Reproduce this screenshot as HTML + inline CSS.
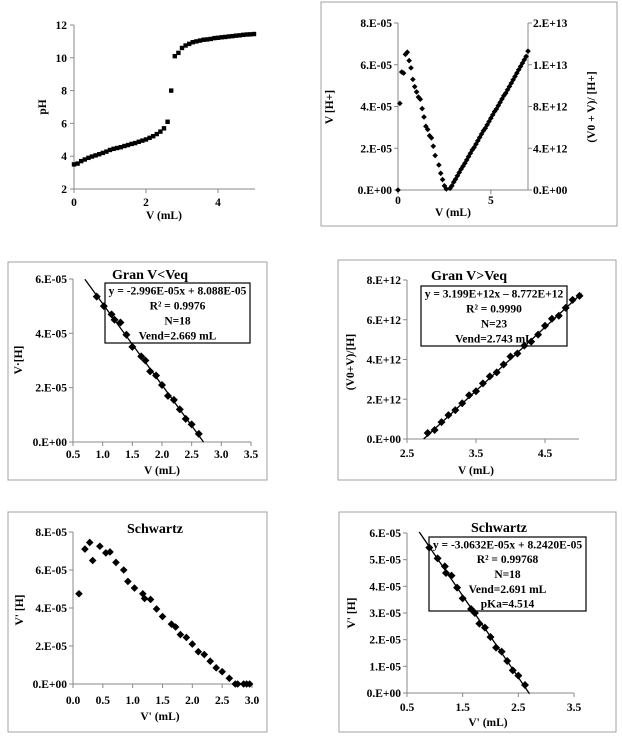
<!DOCTYPE html>
<html><head><meta charset="utf-8"><style>
html,body{margin:0;padding:0;background:#fff;}
svg{display:block;font-family:"Liberation Serif",serif;font-weight:bold;}
</style></head><body>
<svg id="c" width="622" height="744" viewBox="0 0 622 744"></svg>
<script>
// Panel 1: pH titration curve
const phV=[0,0.1,0.2,0.3,0.4,0.5,0.6,0.7,0.8,0.9,1.0,1.1,1.2,1.3,1.4,1.5,1.6,1.7,1.8,1.9,2.0,2.1,2.2,2.3,2.4,2.5,2.6,2.7,2.8,2.9,3.0,3.1,3.2,3.3,3.4,3.5,3.6,3.7,3.8,3.9,4.0,4.1,4.2,4.3,4.4,4.5,4.6,4.7,4.8,4.9,5.0];
const phVals=[3.5,3.55,3.7,3.8,3.9,3.98,4.05,4.12,4.2,4.28,4.38,4.45,4.5,4.55,4.62,4.68,4.75,4.8,4.88,4.95,5.02,5.12,5.22,5.35,5.5,5.7,6.1,8.0,10.1,10.3,10.6,10.75,10.85,10.95,11.0,11.05,11.1,11.12,11.15,11.2,11.22,11.25,11.27,11.3,11.32,11.35,11.37,11.4,11.42,11.43,11.45];
// Panel 2: combined Gran
const g2LeftV=[0,0.1,0.2,0.3,0.4,0.5,0.6,0.7,0.8,0.9,1.0,1.1,1.2,1.3,1.4,1.5,1.6,1.7,1.8,1.9,2.0,2.2,2.3,2.4,2.5,2.6];
const g2LeftY=[0,4.15,5.65,5.6,6.5,6.6,6.2,5.85,5.3,4.95,4.7,4.45,4.35,3.9,3.5,3.05,2.9,2.6,2.5,2.1,1.65,1.2,0.8,0.5,0.2,0.05];
const g2RightV=[2.8,2.9,3.0,3.1,3.2,3.3,3.4,3.5,3.6,3.7,3.8,3.9,4.0,4.1,4.2,4.3,4.4,4.5,4.6,4.7,4.8,4.9,5.0,5.1,5.2,5.3,5.4,5.5,5.6,5.7,5.8,5.9,6.0,6.1,6.2,6.3,6.4,6.5,6.6,6.7,6.8,6.9,7.0];
const g2RightY=[0.16,0.4,0.76,1.04,1.36,1.68,2.0,2.28,2.56,2.88,3.2,3.52,3.84,4.08,4.4,4.72,5.04,5.36,5.68,5.92,6.24,6.56,6.88,7.2,7.52,7.76,8.08,8.4,8.72,9.04,9.28,9.6,9.92,10.24,10.56,10.88,11.2,11.52,11.84,12.16,12.48,12.8,13.3];
// Panel 3: Gran V<Veq (E-05)
const g3V=[0.9,1.02,1.15,1.2,1.3,1.4,1.5,1.65,1.72,1.8,1.9,2.0,2.1,2.2,2.3,2.4,2.5,2.62];
const g3Y=[5.35,5.0,4.7,4.5,4.4,3.95,3.5,3.15,3.0,2.6,2.45,2.1,1.7,1.55,1.2,0.85,0.65,0.3];
const g3Fit=[-2.996,8.088];
// Panel 4: Gran V>Veq (E+12)
const g4V=[2.8,2.9,3.0,3.1,3.2,3.3,3.4,3.5,3.6,3.7,3.8,3.9,4.0,4.1,4.2,4.3,4.4,4.5,4.6,4.7,4.8,4.9,5.0];
const g4Y=[0.3,0.45,0.85,1.2,1.45,1.8,2.2,2.4,2.8,3.15,3.35,3.75,4.15,4.3,4.7,4.9,5.25,5.7,6.05,6.2,6.6,7.0,7.2];
const g4Fit=[3.199,-8.772];
// Panel 5: Schwartz all (E-05)
const s5V=[0.1,0.2,0.28,0.33,0.45,0.55,0.62,0.72,0.85,0.92,1.03,1.17,1.2,1.3,1.4,1.5,1.65,1.72,1.8,1.9,2.0,2.1,2.2,2.3,2.4,2.5,2.62,2.72,2.76,2.86,2.91,2.96];
const s5Y=[4.75,7.1,7.45,6.5,7.25,6.9,6.95,6.4,6.0,5.4,5.05,4.75,4.5,4.45,3.95,3.55,3.15,3.0,2.6,2.45,2.1,1.7,1.55,1.2,0.85,0.65,0.3,0,0,0,0,0];
// Panel 6: Schwartz fit (E-05)
const s6V=[0.9,1.05,1.18,1.2,1.3,1.4,1.5,1.65,1.72,1.8,1.9,2.0,2.1,2.2,2.3,2.4,2.5,2.62];
const s6Y=[5.45,5.05,4.75,4.5,4.4,3.95,3.55,3.15,3.0,2.6,2.45,2.1,1.7,1.55,1.2,0.85,0.65,0.3];
const s6Fit=[-3.0632,8.2420];

const NS="http://www.w3.org/2000/svg";
const svg=document.getElementById('c');
function mk(tag,attrs,parent){const e=document.createElementNS(NS,tag);for(const k in attrs)e.setAttribute(k,attrs[k]);(parent||svg).appendChild(e);return e;}
function txt(s,x,y,size,anchor,parent,rot){const t=mk('text',{x:x,y:y,'font-size':size,'text-anchor':anchor||'middle',fill:'#000'},parent);if(rot)t.setAttribute('transform','rotate(-90 '+x+' '+y+')');t.textContent=s;return t;}
function scale(d0,d1,p0,p1){return v=>p0+(v-d0)/(d1-d0)*(p1-p0);}
function group(name){const g=mk('g',{});return g;}
function frame(g,x0,y0,x1,y1){const r=mk('rect',{x:x0,y:y0,width:x1-x0,height:y1-y0,fill:'none',stroke:'#a0a0a0','stroke-width':1},g);}
function axes(g,xs,ys,xTicks,xLabels,yTicks,yLabels,xLabY,yLabX){
  const xa=mk('line',{x1:xs.range[0],x2:xs.range[1],y1:ys.range[0],y2:ys.range[0],stroke:'#888','stroke-width':1},g);
  
  const ya=mk('line',{x1:xs.range[0],x2:xs.range[0],y1:ys.range[0],y2:ys.range[1],stroke:'#888','stroke-width':1},g);
  
  xTicks.forEach((v,i)=>{const x=xs.f(v);mk('line',{x1:x,x2:x,y1:ys.range[0],y2:ys.range[0]+4,stroke:'#888'},g);
    const t=txt(xLabels[i],x,xLabY,11.5,'middle',g);});
  yTicks.forEach((v,i)=>{const y=ys.f(v);mk('line',{x1:xs.range[0]-4,x2:xs.range[0],y1:y,y2:y,stroke:'#888'},g);
    const t=txt(yLabels[i],yLabX,y+4,11.5,'end',g);});
}
function diamonds(g,X,Y,fx,fy,r,name){X.forEach((v,i)=>{const x=fx(v),y=fy(Y[i]);
  const p=mk('path',{d:`M${x} ${y-r}L${x+r} ${y}L${x} ${y+r}L${x-r} ${y}Z`,fill:'#000'},g);
  });}
function legend(g,x0,y0,x1,y1,lines){const r=mk('rect',{x:x0,y:y0,width:x1-x0,height:y1-y0,fill:'none',stroke:'#000','stroke-width':1.2},g);
  
  const lh=(y1-y0)/lines.length;lines.forEach((s,i)=>{const t=txt(s,(x0+x1)/2,y0+lh*i+lh*0.5+4,11.5,'middle',g);});}
function fitLine(g,fit,fx,fy,xa,xb){const l=mk('line',{x1:fx(xa),y1:fy(fit[0]*xa+fit[1]),x2:fx(xb),y2:fy(fit[0]*xb+fit[1]),stroke:'#000','stroke-width':1.3},g);
  }

// Panel 1
(function(){const g=group('ph-curve-chart');
  const fx=scale(0,5,74,254),fy=scale(2,12,189,25);
  axes(g,{f:fx,range:[74,255]},{f:fy,range:[189,25]},[0,2,4],['0','2','4'],[2,4,6,8,10,12],['2','4','6','8','10','12'],206,67);
  phV.forEach((v,i)=>{const x=fx(v),y=fy(phVals[i]);const r=mk('rect',{x:x-2.2,y:y-2.2,width:4.4,height:4.4,fill:'#000'},g);
    });
  const xt=txt('V (mL)',164,219,11.5,'middle',g);
  const yt=txt('pH',46,107,11.5,'middle',g,true);
})();
// Panel 2
(function(){const g=group('gran-combined-chart');frame(g,321,2,617,226);
  const fx=scale(0,7,398,528),fyL=scale(0,8,190,23),fyR=scale(0,16,190,23);
  axes(g,{f:fx,range:[398,528]},{f:fyL,range:[190,23]},[0,5],['0','5'],[0,2,4,6,8],['0.E+00','2.E-05','4.E-05','6.E-05','8.E-05'],204,392);
  mk('line',{x1:528,x2:528,y1:190,y2:23,stroke:'#888'},g);
  const rl=['0.E+00','4.E+12','8.E+12','1.E+13','2.E+13'];const rv=[0,4,8,12,16];
  rv.forEach((v,i)=>{const y=fyR(v);mk('line',{x1:528,x2:532,y1:y,y2:y,stroke:'#888'},g);const t=txt(rl[i],533,y+4,11.5,'start',g);});
  diamonds(g,g2LeftV,g2LeftY,fx,fyL,2.8,'left-series-point');
  diamonds(g,g2RightV,g2RightY,fx,fyR,2.8,'right-series-point');
  const xt=txt('V (mL)',453,216,11.5,'middle',g);
  const yt=txt('V [H+]',333,107,11.5,'middle',g,true);
  const y2=txt('(V0 + V)/ [H+]',595,107,11.5,'middle',g,true);
})();
// Panel 3
(function(){const g=group('gran-before-eq-chart');frame(g,8,262,267,480);
  const fx=scale(0.5,3.5,73,251),fy=scale(0,6,442,279);
  axes(g,{f:fx,range:[73,251]},{f:fy,range:[442,279]},[0.5,1,1.5,2,2.5,3,3.5],['0.5','1.0','1.5','2.0','2.5','3.0','3.5'],[0,2,4,6],['0.E+00','2.E-05','4.E-05','6.E-05'],458,67);
  legend(g,105,283,250,343,['y = -2.996E-05x + 8.088E-05','R² = 0.9976','N=18','Vend=2.669 mL']);
  diamonds(g,g3V,g3Y,fx,fy,4,'data-point');
  fitLine(g,g3Fit,fx,fy,0.7,2.7);
  const tt=txt('Gran V<Veq',150,279,14,'middle',g);
  const xt=txt('V (mL)',162,474,11.5,'middle',g);
  const yt=txt('V·[H]',22,360,11.5,'middle',g,true);
})();
// Panel 4
(function(){const g=group('gran-after-eq-chart');frame(g,338,260,616,480);
  const fx=scale(2.5,4.5,407,545),fy=scale(0,8,439,280);
  axes(g,{f:fx,range:[407,579]},{f:fy,range:[439,280]},[2.5,3.5,4.5],['2.5','3.5','4.5'],[0,2,4,6,8],['0.E+00','2.E+12','4.E+12','6.E+12','8.E+12'],457,401);
  legend(g,421,286,567,346,['y = 3.199E+12x – 8.772E+12','R² = 0.9990','N=23','Vend=2.743 mL']);
  diamonds(g,g4V,g4Y,fx,fy,4,'data-point');
  fitLine(g,g4Fit,fx,fy,2.742,5.03);
  const tt=txt('Gran V>Veq',469,280,14,'middle',g);
  const xt=txt('V (mL)',476,474,11.5,'middle',g);
  const yt=txt('(V0+V)/[H]',354,362,11.5,'middle',g,true);
})();
// Panel 5
(function(){const g=group('schwartz-all-chart');frame(g,8,512,267,732);
  const fx=scale(0,3,73,252),fy=scale(0,8,684,532);
  axes(g,{f:fx,range:[73,252]},{f:fy,range:[684,532]},[0,0.5,1,1.5,2,2.5,3],['0.0','0.5','1.0','1.5','2.0','2.5','3.0'],[0,2,4,6,8],['0.E+00','2.E-05','4.E-05','6.E-05','8.E-05'],704,67);
  diamonds(g,s5V,s5Y,fx,fy,3.8,'data-point');
  const tt=txt('Schwartz',155,533,14,'middle',g);
  const xt=txt('V\' (mL)',160,720,11.5,'middle',g);
  const yt=txt('V\' [H]',23,610,11.5,'middle',g,true);
})();
// Panel 6
(function(){const g=group('schwartz-fit-chart');frame(g,339,512,616,732);
  const fx=scale(0.5,3.5,407,574),fy=scale(0,6,693,533);
  axes(g,{f:fx,range:[407,574]},{f:fy,range:[693,533]},[0.5,1.5,2.5,3.5],['0.5','1.5','2.5','3.5'],[0,1,2,3,4,5,6],['0.E+00','1.E-05','2.E-05','3.E-05','4.E-05','5.E-05','6.E-05'],711,401);
  legend(g,429,537,586,611,['y = -3.0632E-05x + 8.2420E-05','R² = 0.99768','N=18','Vend=2.691 mL','pKa=4.514']);
  diamonds(g,s6V,s6Y,fx,fy,4,'data-point');
  fitLine(g,s6Fit,fx,fy,0.72,2.7);
  const tt=txt('Schwartz',499,532,14,'middle',g);
  const xt=txt('V\' (mL)',488,726,11.5,'middle',g);
  const yt=txt('V\' [H]',355,613,11.5,'middle',g,true);
})();
</script>
</body></html>
